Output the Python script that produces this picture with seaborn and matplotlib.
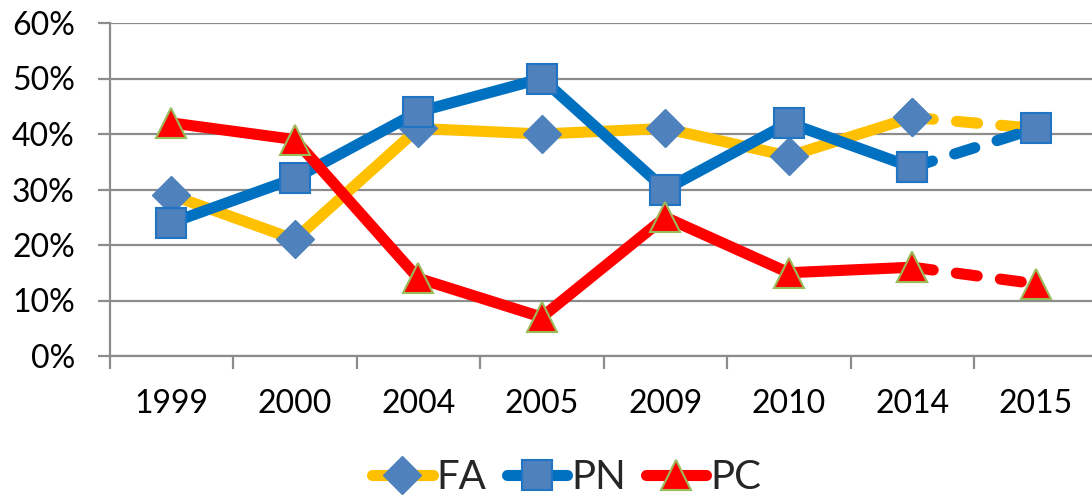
import numpy as np
import pandas as pd
import matplotlib
matplotlib.use("Agg")
import matplotlib.pyplot as plt
import seaborn as sns
from matplotlib.ticker import FixedLocator, FuncFormatter

# values (percent)
years = ["1999", "2000", "2004", "2005", "2009", "2010", "2014", "2015"]
fa = [29, 21, 41, 40, 41, 36, 43, 41]
pn = [24, 32, 44, 50, 30, 42, 34, 41]
pc = [42, 39, 14, 7, 25, 15, 16, 13]
y_ticks = [0, 10, 20, 30, 40, 50, 60]

sns.set_theme(style="white")
plt.rcParams["font.family"] = ["Lato", "DejaVu Sans"]

df = pd.DataFrame({"year": years, "FA": fa, "PN": pn, "PC": pc})
df["pos"] = np.arange(len(years))
solid = df.iloc[:-1]
dashed = df.iloc[-2:]

styles = {
    "FA": dict(color="#FFC000", marker="D", markersize=19,
               markerfacecolor="#4F81BD", markeredgecolor="#4F81BD", markeredgewidth=1),
    "PN": dict(color="#0070C0", marker="s", markersize=21,
               markerfacecolor="#4F81BD", markeredgecolor="#1F74C4", markeredgewidth=1.5),
    "PC": dict(color="#FF0000", marker="^", markersize=22,
               markerfacecolor="#FF0000", markeredgecolor="#9BBB59", markeredgewidth=1.5),
}
# the FA marker for 2015 sits hidden behind the PN square in the original
dashed_marks = {"FA": [0], "PN": [0, 1], "PC": [0, 1]}

fig = plt.figure(figsize=(10.92, 4.97), dpi=100)
ax = fig.add_axes([109.5 / 1092, 1 - 356 / 497, 988 / 1092, 333 / 497])

handles = []
for name in ["FA", "PN", "PC"]:
    st = styles[name]
    n0 = len(ax.lines)
    sns.lineplot(data=dashed, x="pos", y=name, ax=ax, linewidth=8,
                 markevery=dashed_marks[name], **st)
    dl = ax.lines[n0]
    dl.set_dashes((1.9, 2.1))
    dl.set_dash_capstyle("round")
    n1 = len(ax.lines)
    sns.lineplot(data=solid, x="pos", y=name, ax=ax, linewidth=8,
                 label=name, **st)
    sl = ax.lines[n1]
    sl.set_solid_joinstyle("round")
    sl.set_solid_capstyle("round")
    handles.append(sl)

# axes styling
grid_col = "#8C8C8C"
ax.set_xlim(-0.5, len(years) - 0.5)
ax.set_ylim(0, 60)
ax.set_yticks(y_ticks)
ax.yaxis.set_major_formatter(FuncFormatter(lambda v, p: f"{v:.0f}%"))
ax.set_xticks(df["pos"])
ax.set_xticklabels(years)
ax.xaxis.set_minor_locator(FixedLocator(np.arange(-0.5, len(years), 1.0)))
ax.grid(axis="y", color=grid_col, linewidth=1.6)
ax.set_axisbelow(True)
for s in ["top", "right"]:
    ax.spines[s].set_visible(False)
for s in ["left", "bottom"]:
    ax.spines[s].set_color(grid_col)
    ax.spines[s].set_linewidth(1.6)
ax.tick_params(axis="y", which="major", length=9, width=1.6, color=grid_col,
               labelsize=23, pad=16, left=True, labelcolor="black")
ax.tick_params(axis="x", which="major", length=0, labelsize=23, pad=24,
               labelcolor="black")
ax.tick_params(axis="x", which="minor", length=9, width=1.6, color=grid_col,
               bottom=True)
ax.set_xlabel("")
ax.set_ylabel("")

ax.legend(handles=handles, labels=["FA", "PN", "PC"], loc="center",
          bbox_to_anchor=(0.519, 0.04), bbox_transform=fig.transFigure,
          ncol=3, frameon=False, fontsize=29, handlelength=1.5,
          handletextpad=0.1, columnspacing=0.5)

plt.savefig("out.png", dpi=100)
